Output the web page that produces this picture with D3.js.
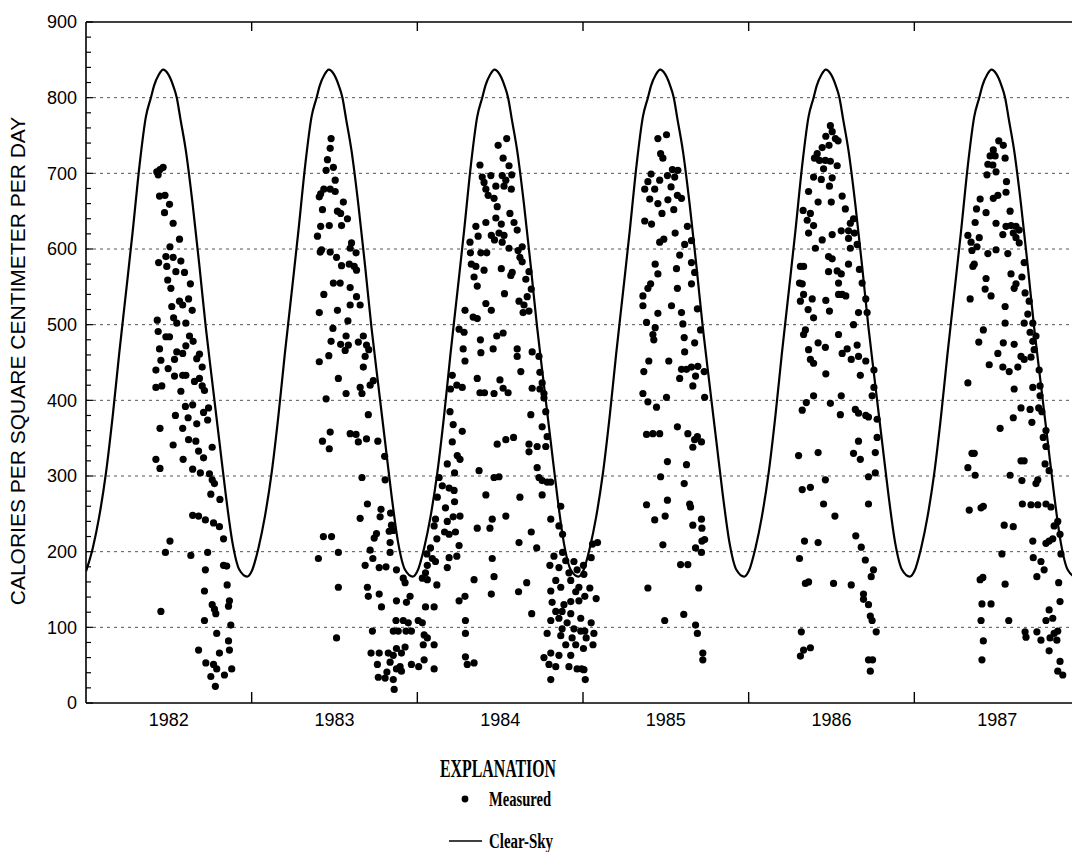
<!DOCTYPE html>
<html><head><meta charset="utf-8">
<script src="https://cdn.jsdelivr.net/npm/d3@7"></script>
<style>body{margin:0;background:#fff}svg{display:block}</style>
</head><body>
<svg id="chart" width="1072" height="852"></svg>
<script>
const years = [1982, 1983, 1984, 1985, 1986, 1987];
const yTicks = [0, 100, 200, 300, 400, 500, 600, 700, 800, 900];
const gridValues = [100, 200, 300, 400, 500, 600, 700, 800];
const yTitle = "CALORIES PER SQUARE CENTIMETER PER DAY";
const legendTitle = "EXPLANATION";
const legendMeasured = "Measured";
const legendClear = "Clear-Sky";

// Clear-sky curve, one year (day of year -> value), repeated each year
const clearSkyDay   = [0, 15, 29, 44, 59, 73, 88, 103, 118, 132, 143, 150, 160, 170, 181, 192, 200, 208, 220, 235, 250, 264, 279, 294, 308, 323, 338, 355, 365];
const clearSkyValue = [174, 205, 246, 304, 380, 461, 542, 624, 711, 775, 800, 816, 830, 837, 831, 816, 800, 772, 730, 659, 577, 496, 420, 345, 275, 211, 176, 167, 174];

// Measured daily values, [day of year, value]
const measured1982 = [[156,702],[163,705],[170,708],[159,698],[162,670],[174,671],[184,659],[173,648],[192,634],[206,613],[185,603],[176,590],[160,582],[178,577],[192,589],[209,584],[198,570],[217,569],[230,554],[180,559],[187,548],[226,534],[206,531],[189,524],[213,526],[234,519],[157,506],[193,509],[200,502],[220,502],[159,491],[176,484],[184,484],[228,485],[236,478],[162,468],[220,472],[200,464],[213,462],[250,461],[165,453],[195,454],[244,455],[181,442],[154,440],[256,444],[195,432],[213,433],[220,433],[239,425],[250,429],[154,417],[167,419],[256,419],[261,413],[209,412],[235,394],[219,392],[270,390],[259,384],[197,380],[225,377],[268,374],[163,363],[213,363],[244,369],[226,348],[242,346],[278,338],[192,341],[248,333],[259,324],[154,322],[214,322],[163,310],[235,309],[252,304],[272,303],[278,295],[283,290],[275,276],[295,269],[235,248],[248,247],[263,242],[281,238],[294,233],[303,217],[185,214],[175,199],[231,195],[268,199],[303,182],[310,181],[263,176],[311,156],[261,148],[316,135],[278,130],[283,124],[314,128],[165,121],[286,118],[261,109],[319,103],[288,92],[314,82],[248,70],[294,66],[316,70],[264,53],[281,51],[288,45],[321,45],[305,37],[275,35],[285,22]];
const measured1983 = [[175,746],[173,733],[167,718],[180,708],[164,704],[184,691],[159,679],[152,673],[173,679],[184,676],[149,669],[156,652],[189,650],[202,662],[196,647],[211,640],[198,631],[152,630],[171,631],[145,617],[220,608],[154,599],[151,596],[173,596],[187,589],[230,595],[217,601],[198,578],[215,580],[226,577],[231,572],[180,555],[195,555],[217,549],[159,540],[231,537],[239,526],[149,516],[189,519],[217,526],[212,505],[179,495],[208,485],[196,474],[175,478],[246,485],[235,477],[253,473],[258,467],[213,473],[206,466],[170,459],[250,458],[149,451],[246,444],[191,429],[268,426],[261,420],[239,417],[208,409],[243,409],[164,402],[257,381],[217,356],[173,358],[230,355],[235,345],[156,346],[171,336],[253,349],[278,346],[293,326],[243,298],[294,295],[255,263],[239,244],[285,256],[283,246],[306,251],[308,235],[312,228],[158,220],[176,220],[275,224],[270,218],[303,227],[305,212],[191,199],[147,191],[261,202],[250,182],[267,191],[281,179],[296,180],[319,176],[305,199],[334,165],[338,159],[191,153],[255,153],[281,144],[319,135],[257,141],[341,133],[349,141],[286,127],[318,109],[334,109],[345,106],[312,95],[323,95],[340,95],[352,95],[266,95],[187,86],[263,66],[281,66],[301,66],[312,63],[319,72],[330,66],[338,74],[277,51],[305,54],[319,45],[327,48],[352,51],[298,41],[279,34],[312,31],[294,33],[330,42],[314,18]];
const measured1984 = [[197,746],[178,737],[189,720],[138,711],[202,710],[162,697],[143,695],[187,697],[208,698],[195,691],[147,688],[151,679],[173,683],[191,683],[207,679],[156,671],[169,667],[176,656],[204,647],[129,630],[151,635],[173,641],[185,633],[213,635],[163,618],[180,621],[191,618],[116,609],[134,617],[170,612],[187,609],[220,625],[231,603],[117,595],[140,595],[153,595],[202,601],[222,598],[226,589],[119,580],[129,577],[147,572],[185,574],[209,569],[231,583],[246,570],[125,563],[206,565],[239,560],[132,551],[251,547],[192,541],[242,537],[224,531],[235,526],[105,519],[151,528],[163,519],[123,510],[132,508],[233,516],[246,518],[92,494],[103,490],[189,489],[139,480],[175,485],[167,468],[101,468],[220,468],[253,464],[268,458],[105,452],[220,458],[140,463],[228,438],[270,437],[77,433],[87,420],[99,417],[132,429],[182,427],[189,416],[138,410],[148,410],[169,409],[200,410],[253,416],[275,423],[270,415],[279,409],[73,415],[279,403],[283,385],[72,385],[250,381],[79,368],[99,359],[275,365],[286,352],[176,342],[195,348],[212,351],[77,345],[246,342],[264,339],[283,339],[88,327],[94,322],[246,332],[66,316],[82,304],[136,307],[169,298],[180,299],[264,311],[268,298],[275,294],[286,292],[294,292],[48,298],[55,287],[70,284],[81,281],[151,275],[226,272],[275,275],[316,260],[44,272],[62,258],[82,266],[40,243],[66,240],[79,246],[94,247],[132,231],[160,231],[165,243],[195,247],[294,243],[312,234],[37,234],[43,217],[60,226],[70,223],[84,226],[92,208],[251,226],[224,212],[263,205],[320,223],[29,205],[21,197],[33,191],[70,192],[87,194],[301,194],[320,199],[327,188],[22,182],[40,187],[165,191],[292,182],[312,179],[345,187],[18,172],[66,179],[334,172],[352,176],[169,167],[125,163],[338,162],[305,162],[11,165],[22,163],[241,159],[43,156],[316,153],[356,153],[294,148],[349,147],[223,147],[163,144],[105,141],[92,135],[297,133],[323,130],[338,134],[356,135],[37,127],[18,127],[252,118],[305,121],[319,121],[338,118],[106,109],[312,112],[330,106],[360,112],[2,109],[11,106],[294,109],[319,98],[345,98],[106,92],[286,92],[360,95],[15,90],[22,86],[316,89],[341,86],[13,77],[37,77],[327,77],[349,77],[15,57],[294,66],[279,60],[312,63],[338,63],[106,61],[110,51],[125,53],[37,45],[290,51],[305,48],[334,48],[294,31],[352,45],[362,45],[3,48]];
const measured1985 = [[184,751],[165,746],[171,726],[176,720],[150,699],[197,705],[209,704],[186,697],[143,689],[169,691],[202,695],[136,679],[158,679],[194,682],[208,671],[217,667],[147,666],[165,660],[187,665],[200,652],[174,647],[136,637],[151,633],[230,630],[203,621],[169,609],[178,613],[224,606],[239,611],[213,592],[159,580],[239,582],[206,574],[246,569],[165,567],[149,554],[143,548],[208,548],[132,538],[239,554],[132,525],[195,525],[217,516],[252,521],[165,515],[140,503],[220,501],[159,496],[154,487],[156,480],[259,493],[223,483],[246,476],[145,452],[189,452],[224,464],[134,438],[217,441],[228,441],[239,444],[253,445],[267,438],[213,429],[248,432],[242,419],[132,409],[184,404],[143,398],[268,404],[162,391],[208,365],[140,355],[154,356],[169,356],[231,356],[246,348],[252,352],[261,345],[242,338],[186,319],[228,315],[171,299],[223,290],[140,262],[186,268],[181,247],[235,263],[237,259],[158,242],[261,243],[242,235],[262,231],[262,214],[268,216],[176,209],[248,205],[261,199],[215,183],[231,183],[143,152],[255,152],[180,109],[222,117],[248,103],[252,92],[264,66],[264,57],[21,210],[32,212],[18,192],[1,182],[2,170],[15,152],[4,141],[29,138],[18,106],[4,95],[24,92],[7,86],[22,77],[1,72],[2,44],[5,31]];
const measured1986 = [[180,763],[184,755],[170,749],[191,746],[197,743],[177,737],[162,734],[151,726],[156,717],[145,720],[169,717],[180,716],[195,710],[165,706],[143,695],[160,692],[184,694],[178,683],[206,670],[132,676],[182,662],[153,662],[213,653],[120,651],[136,647],[129,638],[231,640],[143,631],[224,634],[204,624],[220,624],[132,621],[184,619],[233,621],[162,612],[220,614],[239,606],[147,601],[224,601],[176,590],[184,587],[114,577],[121,577],[220,580],[244,573],[176,570],[195,571],[204,567],[112,555],[118,554],[250,555],[198,555],[206,540],[214,538],[121,540],[140,534],[170,532],[198,540],[258,534],[114,531],[131,520],[178,518],[242,516],[261,516],[143,509],[231,500],[125,493],[153,476],[198,487],[121,487],[206,462],[217,468],[169,470],[239,473],[132,467],[226,454],[242,458],[136,454],[143,449],[258,452],[276,440],[170,435],[246,433],[276,417],[272,406],[143,406],[204,406],[127,397],[180,396],[118,387],[235,388],[242,383],[258,380],[202,381],[264,378],[283,375],[110,327],[153,331],[242,346],[231,330],[246,322],[279,331],[283,351],[264,299],[279,304],[118,282],[136,285],[169,295],[165,263],[264,263],[190,247],[123,214],[153,212],[236,221],[248,206],[112,191],[257,189],[275,176],[270,167],[125,158],[132,160],[187,158],[226,156],[253,144],[253,137],[264,130],[268,115],[272,109],[281,94],[116,94],[136,73],[121,70],[114,62],[264,57],[273,57],[268,42]];
const measured1987 = [[186,743],[196,737],[174,731],[167,723],[178,723],[200,720],[162,712],[173,711],[180,702],[160,698],[203,689],[184,671],[174,667],[145,666],[202,675],[137,653],[158,648],[211,650],[134,635],[180,634],[202,630],[213,631],[224,630],[231,625],[118,618],[143,615],[195,619],[218,621],[125,609],[138,603],[224,615],[231,608],[127,598],[162,594],[180,599],[206,594],[132,580],[129,577],[242,582],[213,567],[158,561],[237,563],[224,554],[156,547],[220,548],[169,538],[244,542],[123,534],[253,531],[200,524],[250,514],[242,502],[261,502],[200,502],[255,490],[268,485],[152,493],[142,477],[196,476],[220,474],[261,478],[264,467],[184,462],[235,458],[242,454],[257,457],[165,447],[195,444],[228,444],[209,438],[275,440],[118,423],[220,415],[261,417],[277,419],[277,406],[235,390],[255,388],[274,390],[281,385],[218,377],[259,371],[290,360],[189,363],[284,351],[290,339],[235,320],[242,320],[132,330],[127,330],[118,311],[134,301],[297,307],[288,316],[272,295],[268,290],[211,301],[237,294],[238,263],[257,262],[272,262],[290,263],[301,259],[152,260],[147,258],[121,255],[198,235],[218,233],[316,240],[308,234],[321,223],[261,214],[290,211],[297,214],[305,217],[323,197],[193,197],[262,192],[279,187],[151,166],[145,163],[286,176],[270,167],[200,157],[318,159],[321,134],[149,131],[169,131],[297,123],[305,112],[290,109],[208,109],[147,109],[244,94],[246,87],[270,94],[279,83],[299,86],[308,92],[314,83],[316,95],[297,69],[152,82],[149,57],[321,55],[316,42],[327,37]];
const measuredByYear = [measured1982, measured1983, measured1984, measured1985, measured1986, measured1987];

const svg = d3.select("#chart");
const plotLeft = 86, plotTop = 22, plotBottom = 703, plotRight = 1080;
const x = d3.scaleLinear().domain([1982, 1988]).range([plotLeft, plotRight]);
const y = d3.scaleLinear().domain([0, 900]).range([plotBottom, plotTop]);
const sans = "'Liberation Sans', Arial, Helvetica, sans-serif";
const serif = "'Liberation Serif', 'Times New Roman', serif";

svg.append("defs").append("clipPath").attr("id", "plotClip")
  .append("rect").attr("x", plotLeft).attr("y", plotTop - 2).attr("width", plotRight - plotLeft).attr("height", plotBottom - plotTop + 2);

// Dashed gridlines
svg.append("g").selectAll("line").data(gridValues).join("line")
  .attr("x1", plotLeft).attr("x2", plotRight)
  .attr("y1", d => y(d)).attr("y2", d => y(d))
  .attr("stroke", "#555").attr("stroke-width", 1).attr("stroke-dasharray", "3,4");

// Clear-sky curve
const clearPts = [];
years.forEach((yr, i) => {
  clearSkyDay.forEach((d, j) => {
    if (i > 0 && j === 0) return;
    clearPts.push([yr + d / 365, clearSkyValue[j]]);
  });
});
svg.append("path").datum(clearPts)
  .attr("clip-path", "url(#plotClip)")
  .attr("fill", "none").attr("stroke", "#000").attr("stroke-width", 2.2)
  .attr("stroke-linejoin", "round")
  .attr("d", d3.line().x(d => x(d[0])).y(d => y(d[1])).curve(d3.curveMonotoneX));

// Measured points
const pts = [];
measuredByYear.forEach((arr, i) => arr.forEach(p => pts.push([years[i] + p[0] / 365, p[1]])));
svg.append("g").attr("clip-path", "url(#plotClip)").selectAll("circle").data(pts).join("circle")
  .attr("cx", d => x(d[0])).attr("cy", d => y(d[1])).attr("r", 3.6).attr("fill", "#000");

// Axes frame
const frame = svg.append("g").attr("stroke", "#000").attr("stroke-width", 1.6);
frame.append("line").attr("x1", plotLeft).attr("x2", plotLeft).attr("y1", plotTop).attr("y2", plotBottom);
frame.append("line").attr("x1", plotLeft).attr("x2", plotRight).attr("y1", plotTop).attr("y2", plotTop);
frame.append("line").attr("x1", plotLeft).attr("x2", plotRight).attr("y1", plotBottom).attr("y2", plotBottom);

// Y ticks (minor every 20, inward)
const yMinor = d3.range(0, 901, 20);
svg.append("g").selectAll("line").data(yMinor).join("line")
  .attr("x1", plotLeft).attr("x2", d => plotLeft + (d % 100 === 0 ? 7 : 5))
  .attr("y1", d => y(d)).attr("y2", d => y(d))
  .attr("stroke", "#000").attr("stroke-width", 1.2);

svg.append("g").selectAll("text").data(yTicks).join("text")
  .attr("x", 77).attr("y", d => y(d)).attr("dy", "0.36em")
  .attr("text-anchor", "end").attr("font-family", sans).attr("font-size", 18)
  .attr("fill", "#000").text(d => d);

// X ticks at year boundaries
const boundaries = years.slice(1);
svg.append("g").selectAll("line").data(boundaries).join("line")
  .attr("x1", d => x(d)).attr("x2", d => x(d)).attr("y1", plotBottom).attr("y2", plotBottom - 11)
  .attr("stroke", "#000").attr("stroke-width", 1.4);
svg.append("g").selectAll("line").data(boundaries).join("line")
  .attr("x1", d => x(d)).attr("x2", d => x(d)).attr("y1", plotTop).attr("y2", plotTop + 9)
  .attr("stroke", "#000").attr("stroke-width", 1.4);

svg.append("g").selectAll("text").data(years).join("text")
  .attr("x", d => x(d + 0.5)).attr("y", 720).attr("dy", "0.36em")
  .attr("text-anchor", "middle").attr("font-family", sans).attr("font-size", 18)
  .attr("fill", "#000").text(d => d);

// Y axis title
svg.append("text")
  .attr("transform", "translate(25,361) rotate(-90)")
  .attr("text-anchor", "middle").attr("font-family", sans).attr("font-size", 21)
  .attr("fill", "#000").text(yTitle);

// Legend
svg.append("text").attr("x", 440).attr("y", 777)
  .attr("font-family", serif).attr("font-weight", "bold").attr("font-size", 25)
  .attr("textLength", 116).attr("lengthAdjust", "spacingAndGlyphs")
  .attr("fill", "#000").text(legendTitle);
svg.append("circle").attr("cx", 465).attr("cy", 799).attr("r", 3.4).attr("fill", "#000");
svg.append("text").attr("x", 489).attr("y", 806)
  .attr("font-family", serif).attr("font-weight", "bold").attr("font-size", 21)
  .attr("textLength", 62).attr("lengthAdjust", "spacingAndGlyphs")
  .attr("fill", "#000").text(legendMeasured);
svg.append("line").attr("x1", 449).attr("x2", 482).attr("y1", 841).attr("y2", 841)
  .attr("stroke", "#000").attr("stroke-width", 1.6);
svg.append("text").attr("x", 489).attr("y", 848)
  .attr("font-family", serif).attr("font-weight", "bold").attr("font-size", 20)
  .attr("textLength", 64).attr("lengthAdjust", "spacingAndGlyphs")
  .attr("fill", "#000").text(legendClear);
</script>
</body></html>
